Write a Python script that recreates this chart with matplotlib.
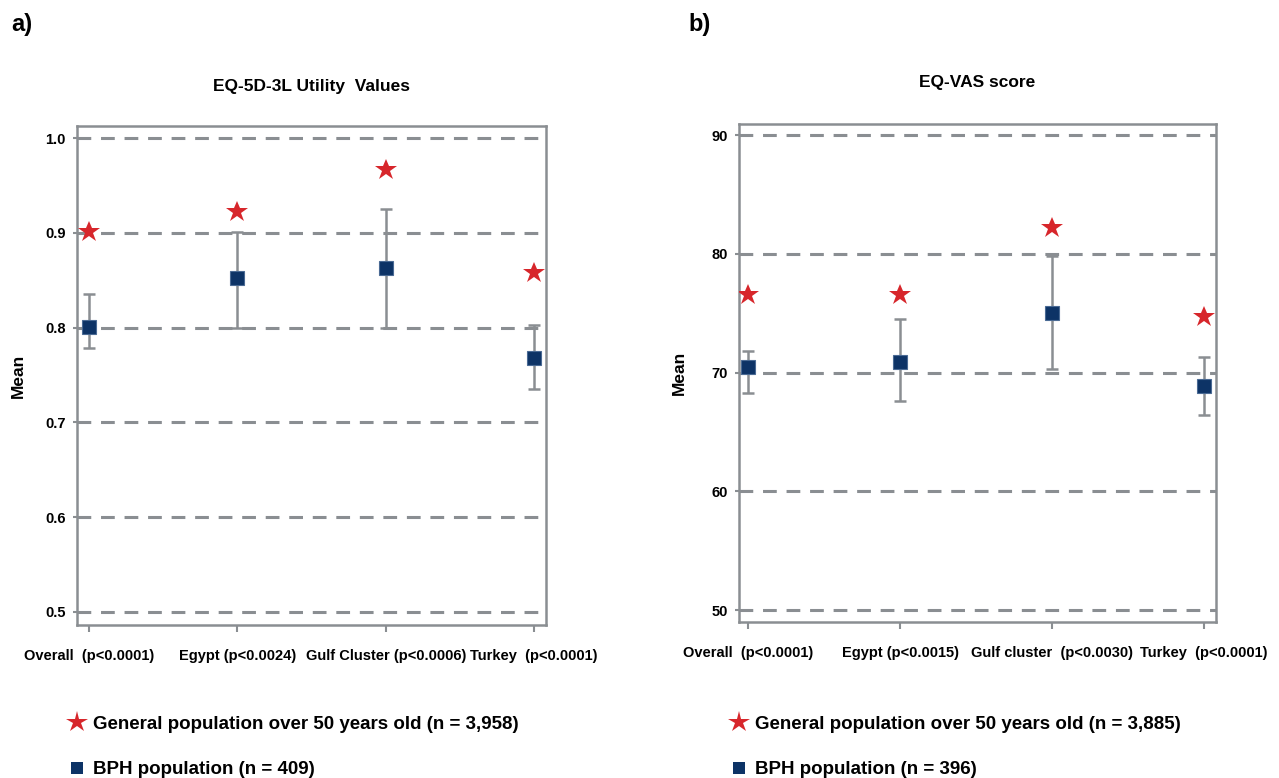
import matplotlib
matplotlib.use('Agg')
from matplotlib import pyplot as plt
from matplotlib.lines import Line2D

plt.rcParams['font.family'] = ['Liberation Sans', 'DejaVu Sans']
plt.rcParams['font.weight'] = 'bold'

# panel a) EQ-5D-3L utility values
cats_a = ['Overall  (p<0.0001)', 'Egypt (p<0.0024)', 'Gulf Cluster (p<0.0006)', 'Turkey  (p<0.0001)']
gen_a = [0.901, 0.922, 0.966, 0.858]
bph_a = [0.801, 0.852, 0.863, 0.768]
low_a = [0.779, 0.800, 0.800, 0.735]
high_a = [0.836, 0.901, 0.925, 0.803]
yticks_a = [0.5, 0.6, 0.7, 0.8, 0.9, 1.0]
n_gen_a, n_bph_a = '3,958', '409'

# panel b) EQ-VAS score
cats_b = ['Overall  (p<0.0001)', 'Egypt (p<0.0015)', 'Gulf cluster  (p<0.0030)', 'Turkey  (p<0.0001)']
gen_b = [76.5, 76.5, 82.2, 74.7]
bph_b = [70.5, 70.9, 75.0, 68.9]
low_b = [68.3, 67.6, 70.3, 66.4]
high_b = [71.8, 74.5, 79.8, 71.3]
yticks_b = [50, 60, 70, 80, 90]
n_gen_b, n_bph_b = '3,885', '396'

red = '#d7262b'
navy = '#0d3366'
grey = '#8a8e92'

fig = plt.figure(figsize=(12.79, 7.78), dpi=100)
ax1 = fig.add_axes([0.0602, 0.1967, 0.3667, 0.6414])
ax2 = fig.add_axes([0.5778, 0.2005, 0.3730, 0.6400])


def panel(ax, cats, gen, bph, low, high, yticks, ylim, xlim, title, tpad, ngen, nbph, leg_x):
    x = list(range(len(cats)))
    for t in yticks:
        ax.axhline(t, color=grey, lw=2.2, linestyle=(0, (4.5, 3.2)), zorder=1)
    err = [[b - l for b, l in zip(bph, low)], [h - b for b, h in zip(bph, high)]]
    ax.errorbar(x, bph, yerr=err, fmt='none', ecolor=grey, elinewidth=1.8,
                capsize=4.3, capthick=1.8, zorder=2)
    ax.plot(x, bph, 's', color=navy, ms=10, mec='#4a6a94', mew=0.8, zorder=3)
    ax.plot(x, gen, '*', color=red, ms=16.5, mew=0, zorder=3)
    ax.set_xlim(xlim)
    ax.set_ylim(ylim)
    ax.set_xticks(x)
    ax.set_xticklabels(cats, fontsize=10.5, fontweight='bold')
    ax.set_yticks(yticks)
    ax.tick_params(axis='y', length=3, width=1.5, color=grey, pad=5, labelsize=10.5)
    ax.tick_params(axis='x', length=5, width=1.5, color=grey, pad=12)
    for s in ax.spines.values():
        s.set_color(grey)
        s.set_linewidth(1.8)
    ax.set_ylabel('Mean', fontsize=12.5, fontweight='bold')
    ax.set_title(title, fontsize=12.5, fontweight='bold', pad=tpad)
    h1 = Line2D([], [], marker='*', color=red, ls='none', ms=16, mew=0)
    h2 = Line2D([], [], marker='s', color=navy, ls='none', ms=9, mew=0)
    fig.legend([h1, h2],
               ['General population over 50 years old (n = %s)' % ngen,
                'BPH population (n = %s)' % nbph],
               loc='upper left', bbox_to_anchor=(leg_x, 0.08), frameon=False,
               prop={'size': 13.5, 'weight': 'bold'}, handlelength=0.8,
               handletextpad=0.45, labelspacing=1.5, borderpad=0, borderaxespad=0)


panel(ax1, cats_a, gen_a, bph_a, low_a, high_a, yticks_a, (0.486, 1.013), (-0.08, 3.08),
      'EQ-5D-3L Utility  Values', 25, n_gen_a, n_bph_a, 0.0545)
panel(ax2, cats_b, gen_b, bph_b, low_b, high_b, yticks_b, (49.0, 90.93), (-0.06, 3.08),
      'EQ-VAS score', 27, n_gen_b, n_bph_b, 0.572)
ax1.yaxis.set_label_coords(-0.109, 0.5)
ax2.yaxis.set_label_coords(-0.109, 0.5)

fig.text(0.009, 0.968, 'a)', fontsize=17, fontweight='bold', va='center')
fig.text(0.538, 0.968, 'b)', fontsize=17, fontweight='bold', va='center')

fig.savefig('out.png', dpi=100)
